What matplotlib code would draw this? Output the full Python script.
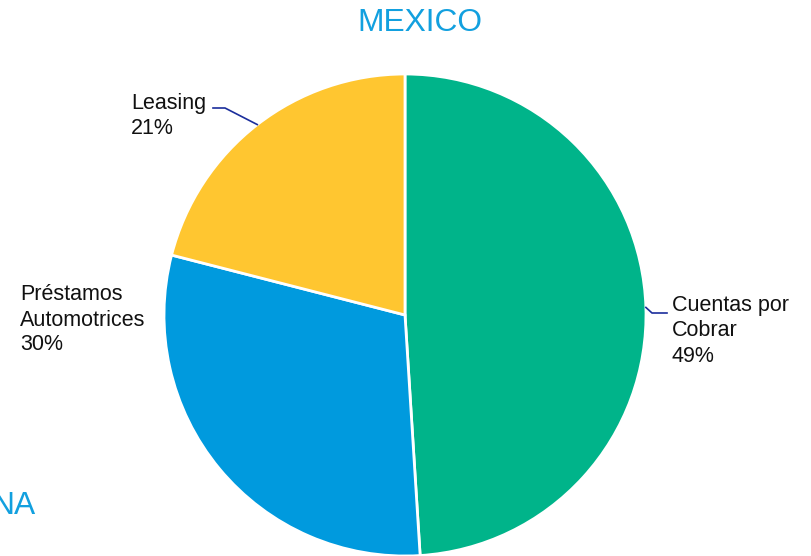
import matplotlib.pyplot as plt
import numpy as np

plt.rcParams['font.family'] = ['Liberation Sans', 'DejaVu Sans']

# data
categories = ['Cuentas por\nCobrar', 'Préstamos\nAutomotrices', 'Leasing']
shares = [49, 30, 21]
colors = ['#00B48A', '#009ADE', '#FFC630']

title_color = '#12A0DF'
leader_color = '#1B2E9C'

fig = plt.figure(figsize=(8.11, 5.56), dpi=100)
ax = fig.add_axes([0, 0, 1, 1])

wedges, _ = ax.pie(shares, colors=colors, startangle=90, counterclock=False,
                   radius=1.0, center=(0, 0),
                   wedgeprops=dict(edgecolor='white', linewidth=2))

# pie centre at (405, 315) px, radius 241 px
R = 241.0
cx, cy = 405.0, 315.0
W, H = 811.0, 556.0
ax.set_aspect('auto')
ax.set_xlim(-cx / R, (W - cx) / R)
ax.set_ylim(-(H - cy) / R, cy / R)
ax.axis('off')


def px(x, y):
    return (x - cx) / R, (cy - y) / R


fs = 15.5
ls = 1.25
# mid angle of each wedge
mids = []
for w in wedges:
    mids.append(np.deg2rad((w.theta1 + w.theta2) / 2))

# Cuentas por Cobrar
a = mids[0]
ex, ey = np.cos(a), np.sin(a)
x1, y1 = px(652, 313)
x2, y2 = px(667, 313)
ax.plot([ex, x1, x2], [ey, y1, y2], color=leader_color, lw=1.2)
tx, ty = px(672, 331)
ax.text(tx, ty, f'{categories[0]}\n{shares[0]}%', ha='left', va='center',
        fontsize=fs, color='#111111', linespacing=ls)

# Préstamos Automotrices
tx, ty = px(20, 320)
ax.text(tx, ty, f'{categories[1]}\n{shares[1]}%', ha='left', va='center',
        fontsize=fs, color='#111111', linespacing=ls)

# Leasing
a = mids[2]
ex, ey = np.cos(a), np.sin(a)
x1, y1 = px(225, 108)
x2, y2 = px(213, 108)
ax.plot([ex, x1, x2], [ey, y1, y2], color=leader_color, lw=1.2)
tx, ty = px(131, 116)
ax.text(tx, ty, f'{categories[2]}\n{shares[2]}%', ha='left', va='center',
        fontsize=fs, color='#111111', linespacing=ls)

# title
tx, ty = px(420, 23)
ax.text(tx, ty, 'MEXICO', ha='center', va='center', fontsize=22.9, color=title_color)

# cut-off label from neighbouring chart
tx, ty = px(36, 506)
ax.text(tx, ty, 'NA', ha='right', va='center', fontsize=22.9, color=title_color)

fig.savefig('out.png', dpi=100)
